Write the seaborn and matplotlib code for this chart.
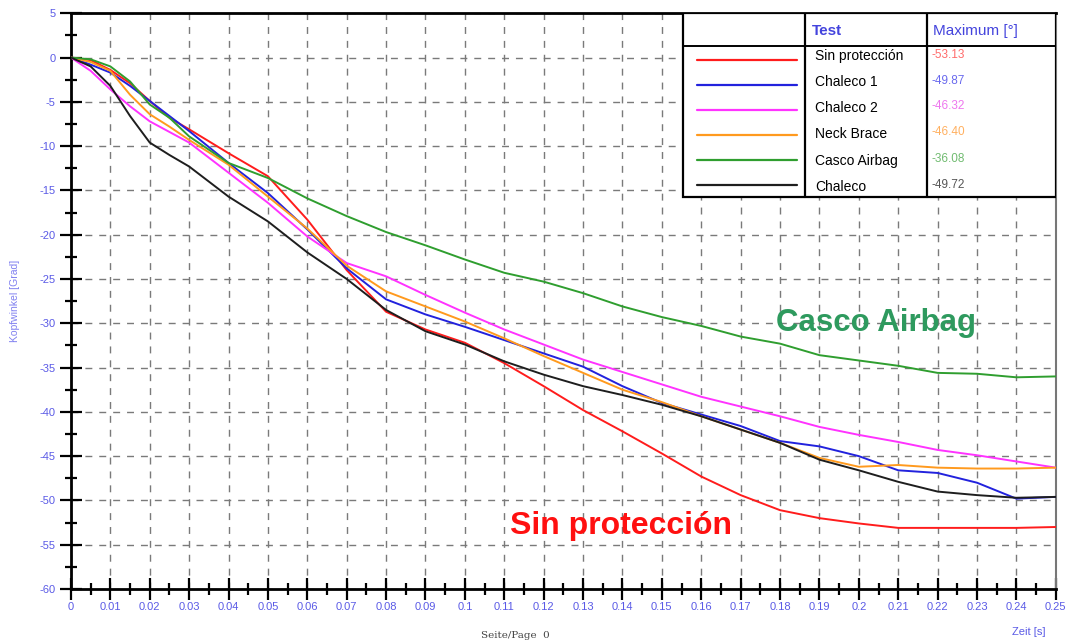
import matplotlib
matplotlib.use("Agg")
import matplotlib.pyplot as plt
from matplotlib.ticker import MultipleLocator, FixedLocator
from matplotlib.patches import Rectangle
import seaborn as sns
import pandas as pd
import numpy as np

# ---------------- data ----------------
t = [0, 0.005, 0.01, 0.015, 0.02, 0.025, 0.03, 0.04, 0.05, 0.06, 0.07, 0.08, 0.09,
     0.10, 0.11, 0.12, 0.13, 0.14, 0.15, 0.16, 0.17, 0.18, 0.19, 0.20, 0.21, 0.22,
     0.23, 0.24, 0.25]

sin_proteccion = [0, -0.3, -1.4, -2.9, -4.9, -6.8, -8.1, -10.8, -13.4, -18.3, -24.0, -28.7, -30.7,
                  -32.2, -34.5, -37.1, -39.8, -42.2, -44.7, -47.3, -49.4, -51.1, -52.0, -52.6, -53.1, -53.1,
                  -53.1, -53.1, -53.0]
chaleco_1 = [0, -0.8, -1.7, -3.2, -4.9, -6.6, -8.3, -11.9, -15.3, -19.4, -23.8, -27.3, -29.0,
             -30.4, -31.9, -33.4, -34.9, -37.1, -39.0, -40.3, -41.6, -43.3, -43.9, -45.0, -46.6, -46.9,
             -48.0, -49.8, -49.6]
chaleco_2 = [0, -1.5, -3.6, -5.5, -7.2, -8.4, -9.6, -13.0, -16.4, -20.2, -23.2, -24.7, -26.8,
             -28.8, -30.7, -32.4, -34.1, -35.5, -36.9, -38.3, -39.4, -40.5, -41.7, -42.6, -43.4, -44.3,
             -44.9, -45.6, -46.3]
neck_brace = [0, -0.5, -1.5, -4.2, -6.4, -7.8, -9.3, -12.1, -15.7, -19.3, -23.5, -26.4, -28.1,
              -29.8, -31.7, -33.7, -35.6, -37.5, -38.9, -40.5, -42.0, -43.5, -45.2, -46.2, -46.0, -46.3,
              -46.4, -46.4, -46.3]
casco_airbag = [0, -0.2, -1.0, -2.7, -5.3, -6.8, -8.9, -11.9, -13.6, -15.9, -17.9, -19.7, -21.2,
                -22.8, -24.3, -25.3, -26.6, -28.1, -29.3, -30.3, -31.5, -32.3, -33.6, -34.2, -34.8, -35.6,
                -35.7, -36.1, -36.0]
chaleco = [0, -1.0, -3.2, -6.6, -9.6, -11.0, -12.3, -15.7, -18.5, -22.0, -25.0, -28.5, -30.9,
           -32.4, -34.3, -35.8, -37.1, -38.1, -39.2, -40.5, -42.0, -43.5, -45.4, -46.6, -47.9, -49.0,
           -49.4, -49.7, -49.6]

series_names = ["Sin protección", "Chaleco 1", "Chaleco 2", "Neck Brace", "Casco Airbag", "Chaleco"]
series_values = [sin_proteccion, chaleco_1, chaleco_2, neck_brace, casco_airbag, chaleco]
maximum_labels = ["-53.13", "-49.87", "-46.32", "-46.40", "-36.08", "-49.72"]

x_ticks = [round(0.01 * i, 2) for i in range(26)]
x_tick_labels = ["0", "0.01", "0.02", "0.03", "0.04", "0.05", "0.06", "0.07", "0.08", "0.09",
                 "0.1", "0.11", "0.12", "0.13", "0.14", "0.15", "0.16", "0.17", "0.18", "0.19",
                 "0.2", "0.21", "0.22", "0.23", "0.24", "0.25"]
y_ticks = list(range(5, -65, -5))

# ---------------- style ----------------
colors = {"Sin protección": "#ff1c1c", "Chaleco 1": "#2222dd", "Chaleco 2": "#ff33ff",
          "Neck Brace": "#ff9a1e", "Casco Airbag": "#2f9e2f", "Chaleco": "#1e1e1e"}
value_colors = ["#ff6a6a", "#6a6aee", "#ee77ee", "#ffb060", "#70bb70", "#555555"]
tick_color = "#5a5ae6"

sns.set_theme(style="white")
plt.rcParams["font.family"] = ["Liberation Sans", "DejaVu Sans"]
plt.rcParams["axes.unicode_minus"] = False

df = pd.DataFrame({
    "t": np.tile(t, len(series_names)),
    "value": np.concatenate(series_values),
    "Test": np.repeat(series_names, len(t)),
})

fig = plt.figure(figsize=(10.67, 6.44), dpi=100)
ax = fig.add_axes([0.0665, 0.0854, 0.923, 0.894])

sns.lineplot(data=df, x="t", y="value", hue="Test", hue_order=series_names,
             palette=colors, linewidth=1.4, legend=False, ax=ax, zorder=3)

ax.set_xlim(0, 0.25)
ax.set_ylim(-60, 5)
ax.xaxis.set_major_locator(FixedLocator(x_ticks))
ax.set_xticklabels(x_tick_labels)
ax.xaxis.set_minor_locator(MultipleLocator(0.005))
ax.yaxis.set_major_locator(FixedLocator(y_ticks))
ax.yaxis.set_minor_locator(MultipleLocator(2.5))

ax.grid(True, which="major", color="#7a7a7a", linestyle=(0, (5, 5)), linewidth=1.0)
ax.set_axisbelow(True)

ax.tick_params(axis="x", which="both", bottom=True, top=False)
ax.tick_params(axis="y", which="both", left=True, right=False)
ax.tick_params(axis="both", which="major", direction="inout", length=16, width=1.6,
               color="black", labelcolor=tick_color, labelsize=8)
ax.tick_params(axis="both", which="minor", direction="inout", length=9, width=1.6, color="black")
ax.tick_params(axis="x", which="major", pad=1)
ax.tick_params(axis="y", which="major", pad=3)

for side in ["left", "bottom", "top"]:
    ax.spines[side].set_color("black")
    ax.spines[side].set_linewidth(2.0)
ax.spines["right"].set_color("#777777")
ax.spines["right"].set_linewidth(1.5)

ax.set_xlabel("")
ax.set_ylabel("Kopfwinkel [Grad]", color="#8080f0", fontsize=7.5, labelpad=14)
fig.text(1045 / 1067, 1 - 632 / 644, "Zeit [s]", color=tick_color, fontsize=8, ha="right", va="center")
fig.text(515 / 1067, 1 - 635 / 644, "Seite/Page  0", color="#444444", fontsize=7.5, ha="center",
         va="center", family="DejaVu Serif")

# ---------------- annotations ----------------
ax.text(0.179, -30.0, "Casco Airbag", color="#2e9a5e", fontsize=22.5, fontweight="bold",
        ha="left", va="center", zorder=5)
ax.text(0.1115, -52.9, "Sin protección", color="#ff1010", fontsize=23, fontweight="bold",
        ha="left", va="center", zorder=5)

# ---------------- legend table ----------------
x0, x1 = (683 - 71) / 985, 1.0
xc1, xc2 = (805 - 71) / 985, (927 - 71) / 985
ytop, ybot = 1.0, (589 - 197) / 576
yhead = (589 - 46) / 576
tr = ax.transAxes
ax.add_patch(Rectangle((x0, ybot), x1 - x0, ytop - ybot, transform=tr, facecolor="white",
                       edgecolor="black", linewidth=1.6, zorder=6))
for xc in (xc1, xc2):
    ax.plot([xc, xc], [ybot, ytop], transform=tr, color="black", lw=1.6, zorder=7)
ax.plot([x0, x1], [yhead, yhead], transform=tr, color="black", lw=1.4, zorder=7)
ax.text((812 - 71) / 985, (589 - 31) / 576, "Test", transform=tr, color="#4444dd", fontsize=11,
        fontweight="bold", ha="left", va="center", zorder=8)
ax.text((933 - 71) / 985, (589 - 31) / 576, "Maximum [°]", transform=tr, color="#4444dd",
        fontsize=11, ha="left", va="center", zorder=8)
row_line_px = [60, 85, 110, 135, 160, 185]
row_text_px = [56, 82, 108, 134, 161, 187]
for name, val, vcol, ly, ty in zip(series_names, maximum_labels, value_colors, row_line_px, row_text_px):
    yl = (589 - ly) / 576
    yt = (589 - ty) / 576
    ax.plot([(697 - 71) / 985, (797 - 71) / 985], [yl, yl], transform=tr, color=colors[name],
            lw=1.6, zorder=8)
    ax.text((815 - 71) / 985, yt, name, transform=tr, color="black", fontsize=10, ha="left",
            va="center", zorder=8)
    ax.text((932 - 71) / 985, yt + 0.003, val, transform=tr, color=vcol, fontsize=8.5, ha="left",
            va="center", zorder=8)

fig.savefig("out.png", dpi=100, facecolor="white")
